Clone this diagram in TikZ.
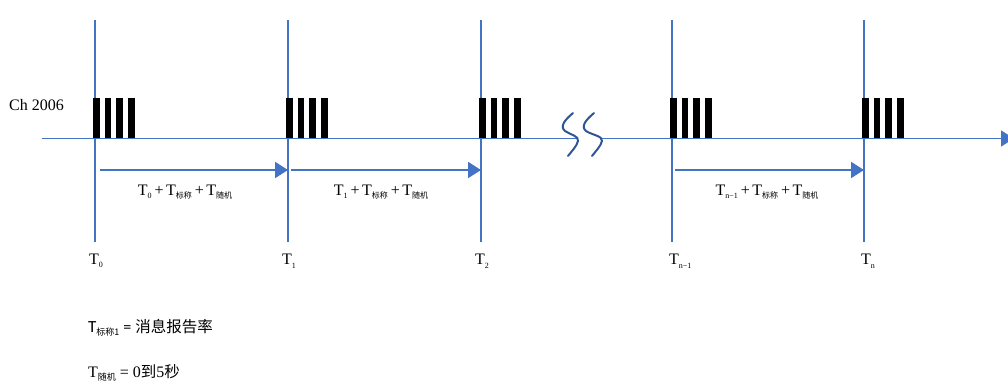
\documentclass[tikz,border=0pt]{standalone}
\usepackage{fontspec}
\setmainfont{Liberation Serif}
\newfontfamily\cjk{Noto Sans CJK SC}
\newfontfamily\calfont{Carlito}
\usetikzlibrary{arrows.meta}
\definecolor{ax}{HTML}{4472C4}
\definecolor{brk}{HTML}{2F5597}
\newcommand{\sbs}[1]{\raisebox{-0.22em}{\fontsize{8}{9}\selectfont #1}}
\newcommand{\lsbs}[1]{\raisebox{-0.22em}{\fontsize{9}{10}\selectfont #1}}
\newcommand{\pl}{\hspace{3pt}+\hspace{2.5pt}}
\begin{document}
\begin{tikzpicture}[x=1pt,y=-1pt,
  vline/.style={draw=ax,line width=1.2pt},
  axis/.style={draw=ax,line width=1.3pt},
  span/.style={draw=ax,line width=2pt,-{Triangle[length=13pt,width=16pt]}},
  bar/.style={fill=black,draw=none},
  lbl/.style={font=\fontsize{16}{18}\selectfont,inner sep=0pt},
  brkline/.style={draw=brk,line width=2pt,line cap=round}]
\useasboundingbox (0,0) rectangle (1008,383);
% vertical time lines
\foreach \n/\x in {a/95,b/288,c/481,d/672,e/864}{
  \coordinate (\n top) at (\x,20);
  \coordinate (\n bot) at (\x,242);
  \coordinate (\n ar) at (\x,170);
  \draw[vline] (\n top) -- (\n bot);
  \foreach \k in {0,1,2,3}{
    \fill[bar] (\x-2+\k*11.7,98) rectangle ++(6.5,40.5);
  }
}
% main axis
\coordinate (axstart) at (42,138.5);
\coordinate (axgap1) at (577,138.5);
\coordinate (axgap2) at (602,138.5);
\coordinate (axend) at (1014,138.5);
\draw[axis] (axstart) -- (axgap1);
\draw[axis,-{Triangle[length=13pt,width=16pt]}] (axgap2) -- (axend);
% break marks
\draw[brkline] (573,113) .. controls (566,119) and (559,126) .. (565,131) .. controls (571,135) and (579,136) .. (578,141) .. controls (577,146) and (571,152) .. (568,156);
\draw[brkline] (594,113) .. controls (587,119) and (580,126) .. (586,131) .. controls (592,135) and (603,136) .. (602,141) .. controls (601,146) and (595,152) .. (592,156);
% span arrows
\coordinate (s1) at (100,170);
\coordinate (s2) at (291,170);
\coordinate (s3) at (675,170);
\draw[span] (s1) -- (bar);
\draw[span] (s2) -- (car);
\draw[span] (s3) -- (ear);
% span labels
\node[lbl] (l1) at (185,192) {T\sbs{0}\pl T\sbs{\cjk 标称}\pl T\sbs{\cjk 随机}};
\node[lbl] (l2) at (381,192) {T\sbs{1}\pl T\sbs{\cjk 标称}\pl T\sbs{\cjk 随机}};
\node[lbl] (l3) at (767,192) {T\sbs{n−1}\pl T\sbs{\cjk 标称}\pl T\sbs{\cjk 随机}};
% time labels
\node[lbl,anchor=west] (t0) at (89,261) {T\sbs{0}};
\node[lbl,anchor=west] (t1) at (282,261) {T\sbs{1}};
\node[lbl,anchor=west] (t2) at (475,261) {T\sbs{2}};
\node[lbl,anchor=west] (t3) at (669,261) {T\sbs{n−1}};
\node[lbl,anchor=west] (t4) at (861,261) {T\sbs{n}};
% channel
\node[lbl,anchor=west] (ch) at (9,105) {Ch 2006};
% legend
\node[lbl,anchor=west] (leg1) at (88,328) {{\calfont\fontsize{17}{18}\selectfont T}\lsbs{\cjk 标称1} {\calfont =} {\cjk\fontsize{15.5}{17}\selectfont 消息报告率}};
\node[lbl,anchor=west] (leg2) at (88,373) {T\lsbs{\cjk 随机} = 0{\cjk\fontsize{15.5}{17}\selectfont 到}5{\cjk\fontsize{15.5}{17}\selectfont 秒}};
\end{tikzpicture}
\end{document}
